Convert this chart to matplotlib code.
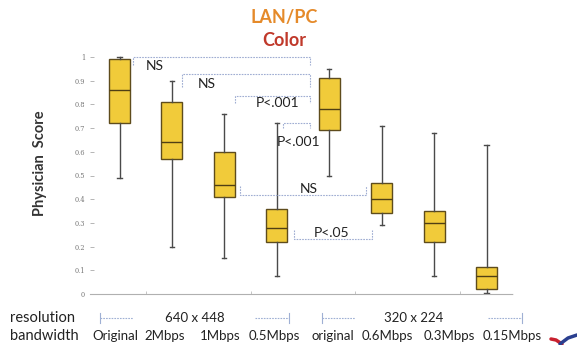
import matplotlib
matplotlib.use("Agg")
import matplotlib.pyplot as plt

plt.rcParams['font.family'] = ['Lato', 'DejaVu Sans']

# ---- data ----
categories = ["Original", "2Mbps", "1Mbps", "0.5Mbps",
              "original", "0.6Mbps", "0.3Mbps", "0.15Mbps"]
whis_lo = [0.49, 0.20, 0.15, 0.076, 0.50, 0.29, 0.076, 0.005]
q1      = [0.72, 0.57, 0.41, 0.22, 0.69, 0.34, 0.22, 0.02]
med     = [0.86, 0.64, 0.46, 0.28, 0.78, 0.40, 0.30, 0.076]
q3      = [0.99, 0.81, 0.60, 0.36, 0.91, 0.47, 0.35, 0.114]
whis_hi = [1.00, 0.90, 0.76, 0.72, 0.95, 0.71, 0.68, 0.63]
resolutions = ["640 x 448", "320 x 224"]
y_ticks = [0, 0.1, 0.2, 0.3, 0.4, 0.5, 0.6, 0.7, 0.8, 0.9, 1.0]
y_ticklabels = ["0", "0.1", "0.2", "0.3", "0.4", "0.5", "0.6", "0.7", "0.8", "0.9", "1"]
# significance brackets: (x_left, x_right, y_line, leg (signed), label, text_x, text_y, ha)
brackets = [
    (1.26, 4.63, 1.000, -0.035, "NS",     1.50, 0.962, "left"),
    (2.19, 4.63, 0.927, -0.052, "NS",     2.50, 0.888, "left"),
    (3.20, 4.63, 0.837, -0.031, "P<.001", 4.02, 0.804, "center"),
    (4.12, 4.63, 0.720, -0.020, "P<.001", 4.42, 0.640, "center"),
    (3.29, 5.70, 0.418,  0.038, "NS",     4.61, 0.441, "center"),
    (4.32, 5.82, 0.232,  0.038, "P<.05",  5.05, 0.258, "center"),
]

W, H = 577, 345
fig = plt.figure(figsize=(W / 100, H / 100), dpi=100)
fig.patch.set_facecolor("white")

# main axes
left_px, right_px = 90, 513
zero_px, top_val = 294, 1.05
px_per_unit = 237
top_px = zero_px - top_val * px_per_unit
ax = fig.add_axes([left_px / W, (H - zero_px) / H,
                   (right_px - left_px) / W, (zero_px - top_px) / H])

positions = list(range(1, len(categories) + 1))
stats = []
for i in range(len(categories)):
    stats.append(dict(whislo=whis_lo[i], q1=q1[i], med=med[i], q3=q3[i],
                      whishi=whis_hi[i], fliers=[]))
ax.bxp(stats, positions=positions, widths=0.40, patch_artist=True,
       showfliers=False, capwidths=0.08,
       boxprops=dict(facecolor="#f1cb3a", edgecolor="#5e4c1c", linewidth=1.0),
       medianprops=dict(color="#4f3f14", linewidth=1.0),
       whiskerprops=dict(color="#4a4a4a", linewidth=1.0),
       capprops=dict(color="#4a4a4a", linewidth=1.0))

ax.set_xlim(0.437, 8.505)
ax.set_ylim(0, top_val)
ax.set_yticks(y_ticks)
ax.set_yticklabels(y_ticklabels, fontsize=4.8, color="#777777",
                   family=["DejaVu Serif"])
ax.tick_params(axis="y", direction="in", length=3, width=0.6,
               color="#aaaaaa", pad=3.5)
ax.set_xticks([1.5, 3.5, 5.5, 7.5])
ax.set_xticklabels([])
ax.tick_params(axis="x", direction="in", length=2, width=0.6, color="#bbbbbb")
for s in ["top", "right", "left"]:
    ax.spines[s].set_visible(False)
ax.spines["bottom"].set_color("#b0b0b0")
ax.spines["bottom"].set_linestyle((0, (2, 1)))
ax.spines["bottom"].set_linewidth(0.8)

bc = "#9fadd2"
for xl, xr, yl, leg, lab, tx, ty, ha in brackets:
    ax.plot([xl, xl, xr, xr], [yl + leg, yl, yl, yl + leg], color=bc,
            lw=0.8, ls=(0, (1.5, 1)), clip_on=False)
    ax.text(tx, ty, lab, ha=ha, va="center", fontsize=10, color="#222222")

# overlay axes in pixel coordinates for annotations
ov = fig.add_axes([0, 0, 1, 1], facecolor="none")
ov.set_xlim(0, W)
ov.set_ylim(H, 0)
ov.axis("off")

ov.text(284, 17, "LAN/PC", ha="center", va="center", fontsize=13,
        fontweight="bold", color="#e58a2a")
ov.text(284, 41, "Color", ha="center", va="center", fontsize=13,
        fontweight="bold", color="#c0392b")
ov.text(40, 163, "Physician  Score", ha="center", va="center", rotation=90,
        fontsize=10.5, fontweight="bold", color="#333333")

ov.text(10, 318, "resolution", ha="left", va="center", fontsize=10.5, color="#222222")
ov.text(10, 336, "bandwidth", ha="left", va="center", fontsize=10.5, color="#222222")
label_x = [115.5, 165, 220, 274.5, 333, 387, 449, 512.5]
for x, lab in zip(label_x, categories):
    ov.text(x, 336, lab, ha="center", va="center", fontsize=9.5, color="#222222")
res_x = [195, 413.5]
for x, lab in zip(res_x, resolutions):
    ov.text(x, 318, lab, ha="center", va="center", fontsize=9.5, color="#222222")

rc = "#9fb0d4"
for a, b in [(100, 289), (322, 522)]:
    ov.plot([a, a], [313, 323], color=rc, lw=0.8)
    ov.plot([a, a + 33], [318, 318], color=rc, lw=0.8, ls=(0, (1.5, 1)))
    ov.plot([b - 34, b], [318, 318], color=rc, lw=0.8, ls=(0, (1.5, 1)))
    ov.plot([b, b], [313, 323], color=rc, lw=0.8)

# small logo swoosh in the corner
ov.plot([551, 556, 562], [339, 340, 344], color="#c8202e", lw=2.5,
        solid_capstyle="round", clip_on=False)
ov.plot([560, 568, 577], [344, 338, 335], color="#2a3f8f", lw=2.5,
        solid_capstyle="round", clip_on=False)

fig.savefig("out.png", dpi=100, facecolor="white")
